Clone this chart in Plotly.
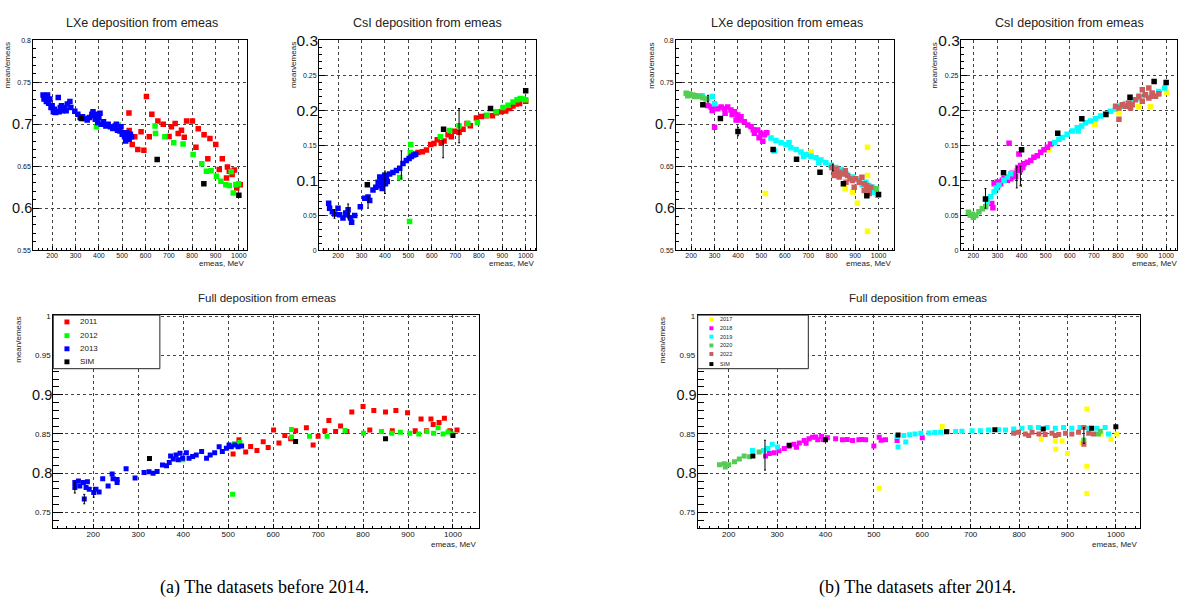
import plotly.graph_objects as go

W, H = 1178, 603

# ---------------- data: (a) before 2014 ----------------
lxe_a_2011_x = [529, 530, 543, 554, 567, 581, 593, 604, 616, 627, 653, 676, 701, 711, 727, 740, 754, 766, 776, 801,
                816, 826, 851, 867, 876, 901, 916, 929, 947, 951, 959, 971, 981, 991, 1006]
lxe_a_2011_y = [0.7135, 0.6925, 0.676, 0.685, 0.670, 0.691, 0.669, 0.733, 0.685, 0.712, 0.704, 0.700, 0.6855, 0.697,
                0.701, 0.689, 0.693, 0.6845, 0.704, 0.704, 0.6725, 0.6945, 0.6875, 0.659, 0.683, 0.676, 0.646, 0.659,
                0.636, 0.649, 0.644, 0.640, 0.6455, 0.624, 0.628]
lxe_a_2012_x = [390, 483, 641, 643, 683, 721, 761, 804, 841, 861, 881, 904, 923, 944, 959, 967, 976, 987, 999]
lxe_a_2012_y = [0.697, 0.699, 0.698, 0.689, 0.685, 0.678, 0.6765, 0.664, 0.653, 0.644, 0.6445, 0.638, 0.632, 0.628,
                0.627, 0.6435, 0.618, 0.628, 0.629]
lxe_a_2013_x = [161, 165, 170, 175, 180, 185, 190, 195, 200, 205, 210, 215, 226, 230, 235, 240, 245, 250, 255, 260,
                265, 276, 280, 297, 310, 320, 330, 340, 350, 360, 370, 375, 380, 385, 390, 395, 400, 405, 410, 420,
                430, 440, 450, 460, 470, 475, 480, 490, 495, 500, 505, 510, 515, 520, 525, 530, 535, 540]
lxe_a_2013_y = [0.735, 0.730, 0.733, 0.727, 0.735, 0.725, 0.730, 0.720, 0.722, 0.715, 0.718, 0.714, 0.732, 0.715,
                0.720, 0.722, 0.716, 0.720, 0.718, 0.716, 0.724, 0.727, 0.720, 0.7155, 0.712, 0.708, 0.709, 0.707,
                0.705, 0.708, 0.712, 0.715, 0.710, 0.706, 0.712, 0.702, 0.708, 0.713, 0.700, 0.703, 0.698, 0.700,
                0.697, 0.695, 0.698, 0.700, 0.693, 0.692, 0.697, 0.688, 0.690, 0.685, 0.680, 0.690, 0.686, 0.682,
                0.688, 0.685]
lxe_a_sim_x = [325, 650, 850, 1000]
lxe_a_sim_y = [0.707, 0.658, 0.629, 0.6155]

csi_a_2011_x = [520, 541, 560, 577, 595, 609, 623, 640, 652, 669, 683, 697, 716, 733, 750, 764, 790, 811, 832, 858,
                875, 896, 915, 932, 946, 960, 974, 1000]
csi_a_2011_y = [0.137, 0.1395, 0.1405, 0.143, 0.151, 0.1525, 0.158, 0.1535, 0.156, 0.165, 0.162, 0.170, 0.1685,
                0.173, 0.181, 0.178, 0.189, 0.191, 0.192, 0.192, 0.1966, 0.198, 0.199, 0.2027, 0.206, 0.209, 0.2097,
                0.213]
csi_a_2012_x = [400, 463, 505, 508, 510, 636, 676, 716, 754, 794, 835, 875, 903, 925, 946, 963, 977, 989, 1000]
csi_a_2012_y = [0.107, 0.104, 0.041, 0.1395, 0.151, 0.162, 0.171, 0.178, 0.181, 0.1826, 0.193, 0.198, 0.204,
                0.2073, 0.212, 0.215, 0.2167, 0.2162, 0.215]
csi_a_2013_x = [160, 164, 176, 186, 200, 207, 221, 233, 243, 253, 258, 271, 295, 314, 328, 335, 349, 361, 371, 378,
                385, 392, 399, 406, 420, 434, 449, 463, 477, 491, 503, 513, 523, 531, 380, 388, 395, 402, 410, 240]
csi_a_2013_y = [0.067, 0.060, 0.055, 0.0515, 0.060, 0.0505, 0.046, 0.053, 0.0576, 0.046, 0.040, 0.0495, 0.062,
                0.074, 0.076, 0.071, 0.086, 0.090, 0.097, 0.1045, 0.102, 0.097, 0.107, 0.102, 0.109, 0.111, 0.114,
                0.117, 0.124, 0.128, 0.131, 0.134, 0.136, 0.137, 0.092, 0.088, 0.100, 0.095, 0.098, 0.0505]
csi_a_sim_x = [325, 650, 850, 1000]
csi_a_sim_y = [0.0936, 0.173, 0.2027, 0.228]
csi_a_err_x = [185, 243, 328, 400, 470, 648, 716]
csi_a_err_y = [0.0515, 0.056, 0.068, 0.097, 0.122, 0.144, 0.178]
csi_a_err = [0.006, 0.010, 0.008, 0.016, 0.020, 0.012, 0.0245]

full_a_2011_x = [511, 524, 539, 550, 564, 578, 589, 601, 613, 626, 639, 650, 674, 689, 700, 715, 724, 739, 750, 764,
                 775, 800, 815, 824, 850, 865, 873, 899, 916, 929, 941, 951, 956, 969, 981, 993, 1009]
full_a_2011_y = [0.8246, 0.8426, 0.827, 0.834, 0.829, 0.840, 0.8326, 0.855, 0.8384, 0.848, 0.844, 0.854, 0.858,
                 0.836, 0.847, 0.854, 0.867, 0.853, 0.860, 0.853, 0.878, 0.885, 0.855, 0.880, 0.878, 0.854, 0.880,
                 0.877, 0.854, 0.869, 0.854, 0.869, 0.862, 0.8645, 0.870, 0.854, 0.855]
full_a_2012_x = [399, 510, 514, 526, 641, 641, 681, 720, 760, 801, 841, 864, 883, 904, 924, 942, 957, 967, 978, 989,
                 998]
full_a_2012_y = [0.817, 0.7733, 0.8376, 0.839, 0.8558, 0.846, 0.847, 0.847, 0.8545, 0.851, 0.853, 0.851, 0.852,
                 0.851, 0.850, 0.853, 0.851, 0.858, 0.850, 0.8525, 0.850]
full_a_2013_x = [159, 159, 167, 170, 178, 180, 184, 187, 191, 201, 206, 213, 221, 233, 242, 244, 253, 253, 273, 293,
                 313, 324, 333, 342, 354, 363, 369, 372, 378, 384, 389, 393, 399, 407, 413, 421, 429, 441, 452, 460,
                 470, 480, 487, 496, 502, 507, 515, 522, 530]
full_a_2013_y = [0.788, 0.7817, 0.790, 0.7837, 0.788, 0.767, 0.7817, 0.789, 0.7796, 0.7754, 0.7796, 0.776, 0.793,
                 0.7837, 0.799, 0.793, 0.788, 0.792, 0.8058, 0.794, 0.8008, 0.8017, 0.800, 0.802, 0.8104, 0.8096,
                 0.8137, 0.822, 0.818, 0.8233, 0.817, 0.8254, 0.819, 0.826, 0.819, 0.8212, 0.8233, 0.8275, 0.819,
                 0.8233, 0.826, 0.8337, 0.8275, 0.8317, 0.8358, 0.8337, 0.8358, 0.8337, 0.8346]
full_a_sim_x = [325, 650, 850, 1000]
full_a_sim_y = [0.8186, 0.8405, 0.8438, 0.848]
full_a_err_x = [159, 180, 201]
full_a_err_y = [0.7817, 0.767, 0.7754]
full_a_err = [0.007, 0.006, 0.006]

# ---------------- data: (b) after 2014 ----------------
lxe_b_2017_x = [517, 712, 858, 889, 910, 953, 953, 953, 986]
lxe_b_2017_y = [0.6174, 0.6668, 0.6232, 0.6193, 0.6057, 0.6727, 0.6388, 0.5726, 0.6193]
lxe_b_2018_x = [271, 285, 300, 314, 328, 342, 356, 370, 385, 392, 399, 413, 427, 442, 456, 470, 484, 498, 506, 513,
                523, 300, 290, 345, 375, 405, 465, 490]
lxe_b_2018_y = [0.7225, 0.7205, 0.7225, 0.7185, 0.7205, 0.7186, 0.7205, 0.717, 0.715, 0.705, 0.711, 0.709, 0.703,
                0.699, 0.697, 0.6894, 0.6933, 0.6894, 0.6797, 0.6875, 0.690, 0.6964, 0.7165, 0.713, 0.7115, 0.705,
                0.6935, 0.684]
lxe_b_2019_x = [247, 271, 290, 300, 541, 555, 562, 584, 605, 626, 648, 669, 690, 712, 733, 754, 775, 797, 818, 861,
                889, 918, 946, 974, 981, 996, 618, 680, 745, 840, 930, 958]
lxe_b_2019_y = [0.734, 0.730, 0.733, 0.7245, 0.6836, 0.668, 0.6805, 0.678, 0.676, 0.672, 0.670, 0.667, 0.664, 0.662,
                0.660, 0.6575, 0.654, 0.651, 0.6485, 0.641, 0.637, 0.633, 0.631, 0.625, 0.619, 0.6155, 0.678, 0.662,
                0.654, 0.646, 0.628, 0.627]
lxe_b_2020_x = [179, 186, 193, 207, 214, 221, 236, 250, 264, 991]
lxe_b_2020_y = [0.737, 0.734, 0.736, 0.735, 0.733, 0.734, 0.733, 0.7315, 0.730, 0.623]
lxe_b_2022_x = [801, 811, 821, 832, 847, 858, 868, 878, 889, 903, 918, 929, 939, 949, 960, 967, 811, 832, 861, 896,
                939, 960]
lxe_b_2022_y = [0.6485, 0.6446, 0.6466, 0.6427, 0.6407, 0.6446, 0.6388, 0.635, 0.633, 0.635, 0.631, 0.6368, 0.629,
                0.627, 0.6232, 0.625, 0.6388, 0.637, 0.631, 0.625, 0.621, 0.6174]
lxe_b_sim_x = [250, 325, 400, 550, 650, 750, 850, 950, 1000]
lxe_b_sim_y = [0.7233, 0.707, 0.6913, 0.670, 0.6583, 0.6427, 0.629, 0.6147, 0.6162]
lxe_b_err_x = [272, 400, 805]
lxe_b_err_y = [0.7305, 0.6913, 0.6485]
lxe_b_err = [0.004, 0.005, 0.004]

csi_b_2017_x = [513, 704, 804, 887, 935, 1003]
csi_b_2017_y = [0.1436, 0.18, 0.1964, 0.2049, 0.2049, 0.2256]
csi_b_2018_x = [276, 281, 286, 299, 313, 327, 341, 355, 369, 348, 382, 389, 396, 410, 424, 438, 451, 465, 479, 493,
                507, 520, 300, 320, 360, 375, 385, 395, 405]
csi_b_2018_y = [0.0668, 0.0607, 0.095, 0.0975, 0.095, 0.1022, 0.0998, 0.1022, 0.1069, 0.153, 0.114, 0.1375, 0.121,
                0.1234, 0.1257, 0.128, 0.1328, 0.1351, 0.140, 0.1436, 0.147, 0.1516, 0.090, 0.100, 0.110, 0.105,
                0.118, 0.115, 0.118]
csi_b_2019_x = [258, 272, 286, 295, 306, 327, 341, 355, 538, 555, 569, 589, 610, 631, 635, 649, 665, 686, 707, 728,
                748, 769, 790, 811, 831, 859, 887, 914, 942, 969, 994]
csi_b_2019_y = [0.0692, 0.0763, 0.0833, 0.089, 0.0927, 0.0998, 0.1045, 0.1092, 0.154, 0.1587, 0.161, 0.1658, 0.1705,
                0.175, 0.1705, 0.1775, 0.182, 0.1846, 0.188, 0.1917, 0.195, 0.1987, 0.202, 0.2058, 0.2096, 0.213,
                0.2176, 0.221, 0.2237, 0.227, 0.2317]
csi_b_2020_x = [179, 187, 196, 200, 210, 223, 237, 251, 969]
csi_b_2020_y = [0.054, 0.050, 0.0513, 0.047, 0.0494, 0.055, 0.059, 0.062, 0.2237]
csi_b_2022_x = [790, 804, 818, 831, 845, 859, 873, 887, 901, 914, 928, 942, 956, 969, 804, 852, 901, 928, 942]
csi_b_2022_y = [0.2058, 0.2034, 0.208, 0.2058, 0.2105, 0.208, 0.2152, 0.22, 0.213, 0.2223, 0.2176, 0.2246, 0.22,
                0.2237, 0.187, 0.2034, 0.2293, 0.2317, 0.22]
csi_b_sim_x = [250, 325, 400, 550, 650, 750, 850, 950, 1000]
csi_b_sim_y = [0.073, 0.1107, 0.1436, 0.1672, 0.188, 0.194, 0.2185, 0.2411, 0.2397]
csi_b_err_x = [250, 380, 395]
csi_b_err_y = [0.074, 0.104, 0.106]
csi_b_err = [0.014, 0.015, 0.014]

full_b_2017_x = [511, 641, 846, 875, 876, 889, 900, 930, 940, 940, 940, 970, 990, 1002]
full_b_2017_y = [0.7808, 0.8595, 0.8434, 0.8409, 0.8306, 0.8409, 0.8252, 0.8384, 0.8818, 0.8088, 0.774, 0.850,
                 0.8434, 0.850]
full_b_2018_x = [276, 284, 294, 304, 315, 325, 335, 346, 356, 366, 373, 384, 392, 404, 421, 435, 456, 469, 483, 500,
                 511, 524, 548, 600, 340, 360, 380, 395, 445, 475, 515]
full_b_2018_y = [0.822, 0.8252, 0.826, 0.8285, 0.8314, 0.8343, 0.8368, 0.8384, 0.8417, 0.8438, 0.8459, 0.8426,
                 0.8467, 0.845, 0.8438, 0.8426, 0.8417, 0.8426, 0.8426, 0.8347, 0.8459, 0.8426, 0.8417, 0.845,
                 0.833, 0.838, 0.846, 0.843, 0.843, 0.843, 0.842]
full_b_2019_x = [249, 272, 281, 290, 301, 548, 550, 562, 566, 574, 585, 597, 614, 626, 638, 652, 669, 682, 703, 720,
                 737, 758, 772, 789, 806, 823, 840, 858, 875, 892, 909, 926, 944, 961, 978, 985]
full_b_2019_y = [0.829, 0.829, 0.8314, 0.8368, 0.8335, 0.8467, 0.8335, 0.848, 0.8397, 0.849, 0.850, 0.8508, 0.8512,
                 0.8517, 0.852, 0.853, 0.853, 0.8533, 0.8541, 0.8541, 0.855, 0.8554, 0.855, 0.8562, 0.8574, 0.8583,
                 0.8583, 0.8583, 0.8574, 0.8583, 0.8574, 0.8583, 0.8574, 0.8574, 0.8583, 0.850]
full_b_2020_x = [181, 191, 193, 200, 212, 222, 232, 243, 263, 934, 964, 968]
full_b_2020_y = [0.8107, 0.812, 0.808, 0.8107, 0.8145, 0.8182, 0.822, 0.821, 0.827, 0.842, 0.850, 0.8533]
full_b_2022_x = [789, 799, 813, 820, 827, 841, 854, 868, 875, 882, 896, 909, 923, 934, 934, 944, 954]
full_b_2022_y = [0.8508, 0.852, 0.850, 0.848, 0.852, 0.850, 0.8492, 0.8508, 0.848, 0.8492, 0.8508, 0.850, 0.852,
                 0.8583, 0.8368, 0.8508, 0.850]
full_b_sim_x = [250, 325, 400, 550, 650, 750, 850, 950, 1000]
full_b_sim_y = [0.8219, 0.8355, 0.8426, 0.8488, 0.8529, 0.8554, 0.8562, 0.8574, 0.8591]
full_b_err_x = [275, 934]
full_b_err_y = [0.823, 0.848]
full_b_err = [0.019, 0.010]

# legend labels / colours
legend_a_labels = ["2011", "2012", "2013", "SIM"]
legend_a_colors = ["#ff0000", "#00ff00", "#0000ff", "#000000"]
legend_b_labels = ["2017", "2018", "2019", "2020", "2022", "SIM"]
legend_b_colors = ["#ffff00", "#ff00ff", "#00ffff", "#55cc55", "#cd5c5c", "#000000"]

panel_titles = ["LXe deposition from emeas", "CsI deposition from emeas", "Full deposition from emeas",
                "LXe deposition from emeas", "CsI deposition from emeas", "Full deposition from emeas"]

# ---------------- helpers ----------------
def PX(p):
    return p / W


def PY(p):
    return 1 - p / H


FONT = "Liberation Sans, Arial, Helvetica, sans-serif"
SERIF = "Liberation Serif, Times New Roman, serif"

panels = [
    dict(box=(33.3, 247, 32, 246), xr=[119, 1034], yr=[0.55, 0.8], kind="lxe",
         series=[(lxe_a_2011_x, lxe_a_2011_y, "#ff0000"), (lxe_a_2012_x, lxe_a_2012_y, "#00ff00"),
                 (lxe_a_2013_x, lxe_a_2013_y, "#0000ff"), (lxe_a_sim_x, lxe_a_sim_y, "#000000")],
         err=None, title_c=(142, 14), ylab_x=7, xlab=(247, 260)),
    dict(box=(319.3, 536.7, 32, 246), xr=[119, 1045], yr=[0, 0.3], kind="csi",
         series=[(csi_a_2011_x, csi_a_2011_y, "#ff0000"), (csi_a_2012_x, csi_a_2012_y, "#00ff00"),
                 (csi_a_2013_x, csi_a_2013_y, "#0000ff"), (csi_a_sim_x, csi_a_sim_y, "#000000")],
         err=(csi_a_err_x, csi_a_err_y, csi_a_err), title_c=(428, 14), ylab_x=294, xlab=(537, 260)),
    dict(box=(53.3, 479, 312, 530), xr=[111, 1057], yr=[0.7296, 1.0018], kind="full",
         series=[(full_a_2011_x, full_a_2011_y, "#ff0000"), (full_a_2012_x, full_a_2012_y, "#00ff00"),
                 (full_a_2013_x, full_a_2013_y, "#0000ff"), (full_a_sim_x, full_a_sim_y, "#000000")],
         err=(full_a_err_x, full_a_err_y, full_a_err), title_c=(267, 295), ylab_x=19, xlab=(479, 546)),
    dict(box=(676.7, 895, 32, 246), xr=[136, 1067], yr=[0.55, 0.8], kind="lxe",
         series=[(lxe_b_2017_x, lxe_b_2017_y, "#ffff00"), (lxe_b_2018_x, lxe_b_2018_y, "#ff00ff"),
                 (lxe_b_2019_x, lxe_b_2019_y, "#00ffff"), (lxe_b_2020_x, lxe_b_2020_y, "#55cc55"),
                 (lxe_b_2022_x, lxe_b_2022_y, "#cd5c5c"), (lxe_b_sim_x, lxe_b_sim_y, "#000000")],
         err=(lxe_b_err_x, lxe_b_err_y, lxe_b_err), title_c=(788, 14), ylab_x=652, xlab=(895, 260)),
    dict(box=(961.7, 1178, 32, 246), xr=[148, 1045], yr=[0, 0.3], kind="csi",
         series=[(csi_b_2017_x, csi_b_2017_y, "#ffff00"), (csi_b_2018_x, csi_b_2018_y, "#ff00ff"),
                 (csi_b_2019_x, csi_b_2019_y, "#00ffff"), (csi_b_2020_x, csi_b_2020_y, "#55cc55"),
                 (csi_b_2022_x, csi_b_2022_y, "#cd5c5c"), (csi_b_sim_x, csi_b_sim_y, "#000000")],
         err=(csi_b_err_x, csi_b_err_y, csi_b_err), title_c=(1070, 14), ylab_x=935, xlab=(1181, 260)),
    dict(box=(698.3, 1141, 312, 530), xr=[136, 1050], yr=[0.7296, 1.0018], kind="full",
         series=[(full_b_2017_x, full_b_2017_y, "#ffff00"), (full_b_2018_x, full_b_2018_y, "#ff00ff"),
                 (full_b_2019_x, full_b_2019_y, "#00ffff"), (full_b_2020_x, full_b_2020_y, "#55cc55"),
                 (full_b_2022_x, full_b_2022_y, "#cd5c5c"), (full_b_sim_x, full_b_sim_y, "#000000")],
         err=(full_b_err_x, full_b_err_y, full_b_err), title_c=(919, 295), ylab_x=663, xlab=(1141, 546)),
]

ytick_sets = {
    "lxe": ([0.55, 0.6, 0.65, 0.7, 0.75, 0.8], [0.6, 0.7], ["0.55", "0.6", "0.65", "0.7", "0.75", "0.8"]),
    "csi": ([0, 0.05, 0.1, 0.15, 0.2, 0.25, 0.3], [0.1, 0.2, 0.3],
            ["0", "0.05", "0.1", "0.15", "0.2", "0.25", "0.3"]),
    "full": ([0.75, 0.8, 0.85, 0.9, 0.95, 1.0], [0.8, 0.9], ["0.75", "0.8", "0.85", "0.9", "0.95", "1"]),
}
xticks = [200, 300, 400, 500, 600, 700, 800, 900, 1000]

fig = go.Figure()
layout = {}
annotations = []
shapes = []

for i, p in enumerate(panels):
    n = i + 1
    xa = "x" if n == 1 else f"x{n}"
    ya = "y" if n == 1 else f"y{n}"
    big_n = n + 6
    yb = f"y{big_n}"
    l, r, t, b = p["box"]
    bottom_panel = p["kind"] == "full"
    small = 8 if bottom_panel else 7
    bigsz = 15.5 if p["kind"] == "csi" else 14.5
    msize = 5 if bottom_panel else 5.5

    nser = len(p["series"])
    for k, (xs, ys, col) in enumerate(p["series"]):
        # the last series (SIM) sits on the overlay axis (same range) so that axis is drawn
        yax = yb if k == nser - 1 else ya
        fig.add_trace(go.Scatter(x=xs, y=ys, mode="markers", xaxis=xa, yaxis=yax, showlegend=False,
                                 marker=dict(symbol="square", size=msize, color=col, line=dict(width=0)),
                                 hoverinfo="x+y"))
    if p["err"] is not None:
        ex, ey, ee = p["err"]
        fig.add_trace(go.Scatter(x=ex, y=ey, mode="markers", xaxis=xa, yaxis=ya, showlegend=False,
                                 marker=dict(size=1, color="rgba(0,0,0,0)"),
                                 error_y=dict(type="data", array=ee, color="#000000", thickness=1, width=1)))

    tv, big, labels = ytick_sets[p["kind"]]
    small_text = ["" if v in big else lab for v, lab in zip(tv, labels)]
    big_text = [lab for v, lab in zip(tv, labels) if v in big]

    yticklen = 10 if bottom_panel else 6
    xaxis = dict(domain=[PX(l), PX(r)], range=p["xr"], anchor=ya, tickvals=xticks,
                 ticktext=[str(v) for v in xticks], ticks="inside", ticklen=4, tickcolor="#000",
                 tickfont=dict(family=FONT, size=small, color="#111"), ticklabelstandoff=-2,
                 showline=True, mirror=True, linecolor="#000", linewidth=1,
                 showgrid=True, gridcolor="#444", griddash="dot", gridwidth=1, zeroline=False,
                 minor=dict(dtick=20, tick0=0, ticks="inside", ticklen=2, tickcolor="#000", showgrid=False))
    yaxis = dict(domain=[PY(b), PY(t)], range=p["yr"], anchor=xa, tickvals=tv, ticktext=small_text,
                 ticks="inside", ticklen=yticklen, tickcolor="#000",
                 tickfont=dict(family=FONT, size=small, color="#111"),
                 showline=True, mirror=True, linecolor="#000", linewidth=1,
                 showgrid=True, gridcolor="#444", griddash="dot", gridwidth=1, zeroline=False,
                 minor=dict(dtick=0.01, tick0=0, ticks="inside", ticklen=round(yticklen * 0.55),
                            tickcolor="#000", showgrid=False))
    yaxis_big = dict(domain=[PY(b), PY(t)], range=p["yr"], anchor=xa, overlaying=ya, side="left",
                     tickvals=big, ticktext=big_text, ticks="", showgrid=False, showline=False,
                     zeroline=False, tickfont=dict(family=FONT, size=bigsz, color="#111"))
    layout["xaxis" if n == 1 else f"xaxis{n}"] = xaxis
    layout["yaxis" if n == 1 else f"yaxis{n}"] = yaxis
    layout[f"yaxis{big_n}"] = yaxis_big

    tx, ty = p["title_c"]
    annotations.append(dict(text=panel_titles[i], x=PX(tx), y=PY(ty), xref="paper", yref="paper",
                            showarrow=False, xanchor="center", yanchor="middle",
                            font=dict(family=FONT, size=11.5 if bottom_panel else 12.5, color="#222")))
    annotations.append(dict(text="mean/emeas", x=PX(p["ylab_x"]), y=PY(t), xref="paper", yref="paper",
                            showarrow=False, textangle=-90, xanchor="center", yanchor="top",
                            font=dict(family=FONT, size=8, color="#222")))
    lx, ly = p["xlab"]
    annotations.append(dict(text="emeas, MeV", x=PX(lx), y=PY(ly), xref="paper", yref="paper",
                            showarrow=False, xanchor="right", yanchor="middle",
                            font=dict(family=FONT, size=8, color="#222")))


def add_legend(box, labels, colors, ys, mx, tx, msz, fsz):
    l, r, t, b = box
    shapes.append(dict(type="rect", xref="paper", yref="paper", x0=PX(l), x1=PX(r), y0=PY(b), y1=PY(t),
                       line=dict(color="#222", width=1), fillcolor="white", layer="above"))
    for lab, col, yy in zip(labels, colors, ys):
        shapes.append(dict(type="rect", xref="paper", yref="paper",
                           x0=PX(mx - msz / 2), x1=PX(mx + msz / 2), y0=PY(yy + msz / 2), y1=PY(yy - msz / 2),
                           line=dict(width=0), fillcolor=col, layer="above"))
        annotations.append(dict(text=lab, x=PX(tx), y=PY(yy), xref="paper", yref="paper", showarrow=False,
                                xanchor="left", yanchor="middle", font=dict(family=FONT, size=fsz, color="#222")))


add_legend((53.3, 160, 312.3, 367), legend_a_labels, legend_a_colors, [319.3, 333.3, 346.7, 360.0], 67, 78, 5, 8)
add_legend((698.3, 809, 312.3, 367), legend_b_labels, legend_b_colors,
           [316.7, 325.7, 334.3, 343.3, 352.0, 362.3], 712, 719, 4, 5.5)

annotations.append(dict(text="(a) The datasets before 2014.", x=PX(265), y=PY(590), xref="paper", yref="paper",
                        showarrow=False, xanchor="center", yanchor="middle",
                        font=dict(family=SERIF, size=18, color="#000")))
annotations.append(dict(text="(b) The datasets after 2014.", x=PX(918), y=PY(590), xref="paper", yref="paper",
                        showarrow=False, xanchor="center", yanchor="middle",
                        font=dict(family=SERIF, size=18, color="#000")))

fig.update_layout(width=W, height=H, margin=dict(l=0, r=0, t=0, b=0), paper_bgcolor="white",
                  plot_bgcolor="white", showlegend=False, annotations=annotations, shapes=shapes, **layout)

fig.write_html("out.html", config={"displayModeBar": False},
               post_script="document.body.style.margin='0px';")
